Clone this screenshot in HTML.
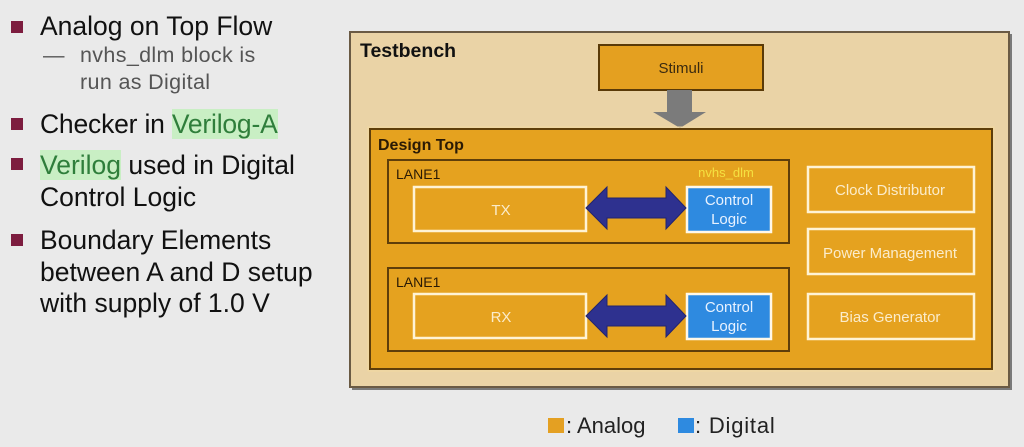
<!DOCTYPE html>
<html><head><meta charset="utf-8"><style>
html,body{margin:0;padding:0}
body{width:1024px;height:447px;background:#eaeaea;position:relative;overflow:hidden;font-family:"Liberation Sans","DejaVu Sans",sans-serif}
.t{position:absolute;white-space:nowrap;color:#111;font-size:26.5px;line-height:1}
.s{position:absolute;white-space:nowrap;color:#555;font-size:21.5px;line-height:1}
.b{position:absolute;left:11px;width:12px;height:12px;background:#7d1d3f}
.hl{background:#c9efc4;color:#2f7e3b}
</style></head><body>
<div class="b" style="top:21px"></div>
<div class="t" style="left:40px;top:13px">Analog on Top Flow</div>
<div class="s" style="left:43px;top:45px">—</div>
<div class="s" style="left:80px;top:45px;letter-spacing:0.35px">nvhs_dlm block is</div>
<div class="s" style="left:80px;top:72px;letter-spacing:0.35px">run as Digital</div>
<div class="b" style="top:118px"></div>
<div class="t" style="left:40px;top:111px;letter-spacing:-0.2px">Checker in <span class="hl">Verilog-A</span></div>
<div class="b" style="top:158px"></div>
<div class="t" style="left:40px;top:152px"><span class="hl">Verilog</span> used in Digital</div>
<div class="t" style="left:40px;top:184px">Control Logic</div>
<div class="b" style="top:234px"></div>
<div class="t" style="left:40px;top:227px">Boundary Elements</div>
<div class="t" style="left:40px;top:259px">between A and D setup</div>
<div class="t" style="left:40px;top:290px">with supply of 1.0 V</div>

<svg width="1024" height="447" style="position:absolute;left:0;top:0" font-family="Liberation Sans, DejaVu Sans, sans-serif">
  <!-- Testbench -->
  <rect x="352" y="34" width="660" height="356" fill="#7a7a7a"/>
  <rect x="350" y="32" width="659" height="355" fill="#ead3a6" stroke="#6a5a44" stroke-width="2"/>
  <text x="360" y="57" font-size="19.5" font-weight="bold" fill="#111">Testbench</text>
  <!-- Stimuli -->
  <rect x="599" y="45" width="164" height="45" fill="#e4a020" stroke="#5a3a08" stroke-width="2"/>
  <text x="681" y="73" font-size="15" fill="#3a2a10" text-anchor="middle">Stimuli</text>
  <!-- gray arrow -->
  <polygon points="667,90 692,90 692,112 706,112 680,128 653,112 667,112" fill="#7b7b7b"/>
  <!-- Design Top -->
  <rect x="370" y="129" width="622" height="240" fill="#e5a21f" stroke="#5e3e0a" stroke-width="2"/>
  <rect x="368" y="127" width="626" height="244" fill="none" stroke="#f3d9a0" stroke-width="1"/>
  <text x="378" y="150" font-size="16" font-weight="bold" fill="#2a1a05">Design Top</text>
  <!-- Lane 1 top -->
  <rect x="388" y="160" width="401" height="83" fill="#e5a21f" stroke="#5e3e0a" stroke-width="2"/>
  <text x="396" y="179" font-size="14" fill="#2a1a05">LANE1</text>
  <text x="726" y="177" font-size="13" fill="#f5e040" text-anchor="middle">nvhs_dlm</text>
  <rect x="414" y="187" width="172" height="44" fill="#e5a21f" stroke="#fff3d4" stroke-width="2.5"/>
  <text x="501" y="215" font-size="15" fill="#fbeccb" text-anchor="middle">TX</text>
  <rect x="687" y="187" width="84" height="45" fill="#2e8ae0" stroke="#fff8e8" stroke-width="2.5"/>
  <text x="729" y="205" font-size="15" fill="#e8f2ff" text-anchor="middle">Control</text>
  <text x="729" y="224" font-size="15" fill="#e8f2ff" text-anchor="middle">Logic</text>
  <polygon points="586,208 607,187 607,198 666,198 666,187 686,208 666,229 666,218 607,218 607,229" fill="#2e318f" stroke="#22246e" stroke-width="1"/>
  <!-- Lane 1 bottom -->
  <rect x="388" y="268" width="401" height="83" fill="#e5a21f" stroke="#5e3e0a" stroke-width="2"/>
  <text x="396" y="287" font-size="14" fill="#2a1a05">LANE1</text>
  <rect x="414" y="294" width="172" height="44" fill="#e5a21f" stroke="#fff3d4" stroke-width="2.5"/>
  <text x="501" y="322" font-size="15" fill="#fbeccb" text-anchor="middle">RX</text>
  <rect x="687" y="294" width="84" height="45" fill="#2e8ae0" stroke="#fff8e8" stroke-width="2.5"/>
  <text x="729" y="312" font-size="15" fill="#e8f2ff" text-anchor="middle">Control</text>
  <text x="729" y="331" font-size="15" fill="#e8f2ff" text-anchor="middle">Logic</text>
  <polygon points="586,316 607,295 607,306 666,306 666,295 686,316 666,337 666,326 607,326 607,337" fill="#2e318f" stroke="#22246e" stroke-width="1"/>
  <!-- right boxes -->
  <rect x="808" y="167" width="166" height="45" fill="#e5a21f" stroke="#fff3d4" stroke-width="2.5"/>
  <text x="890" y="195" font-size="15" fill="#fbeccb" text-anchor="middle">Clock Distributor</text>
  <rect x="808" y="229" width="166" height="45" fill="#e5a21f" stroke="#fff3d4" stroke-width="2.5"/>
  <text x="890" y="258" font-size="15" fill="#fbeccb" text-anchor="middle" textLength="134" lengthAdjust="spacingAndGlyphs">Power Management</text>
  <rect x="808" y="294" width="166" height="45" fill="#e5a21f" stroke="#fff3d4" stroke-width="2.5"/>
  <text x="890" y="322" font-size="15" fill="#fbeccb" text-anchor="middle">Bias Generator</text>
  <!-- legend -->
  <rect x="548" y="418" width="16" height="15" fill="#e4a022"/>
  <text x="566" y="433" font-size="22" fill="#222">: Analog</text>
  <rect x="678" y="418" width="16" height="15" fill="#2e8ae0"/>
  <text x="695" y="433" font-size="22" fill="#222" letter-spacing="0.8">: Digital</text>
</svg>
</body></html>
